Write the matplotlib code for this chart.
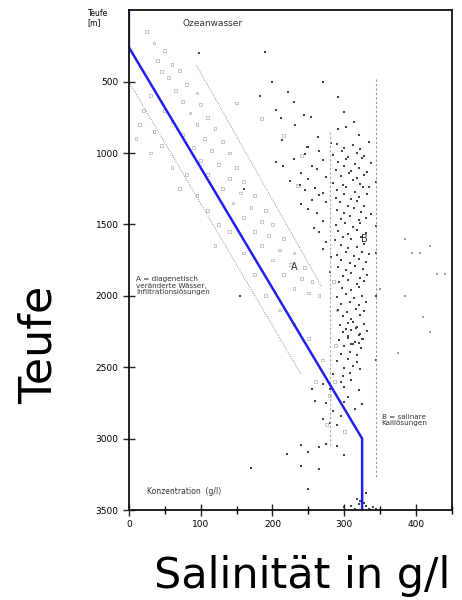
import matplotlib
matplotlib.use("Agg")
import matplotlib.pyplot as plt
from matplotlib.ticker import MultipleLocator

# ---- data (salinity g/l, depth m) ----
blue_sal = [0, 0, 325, 325]
blue_depth = [0, 260, 3000, 3500]

lower_dot_sal = [0, 240]
lower_dot_depth = [500, 2550]
upper_dot_sal = [94, 269]
upper_dot_depth = [385, 1940]
vert1_sal = [280, 280]
vert1_depth = [850, 3050]
vert2_sal = [345, 345]
vert2_depth = [480, 3280]

light_sal = [25, 35, 50, 40, 60, 45, 70, 55, 80, 65, 95, 30, 75, 100, 50, 85, 110, 60, 95, 120,
             75, 105, 130, 90, 115, 140, 100, 125, 150, 110, 140, 160, 130, 155, 175, 145, 170, 190,
             160, 185, 200, 175, 195, 215, 185, 210, 230, 200, 225, 245, 215, 240, 255, 230, 250, 265,
             20, 15, 35, 10, 45, 30, 60, 80, 70, 95, 110, 125, 140, 120, 160, 175, 190, 210, 230, 250,
             270, 260, 280, 275, 300, 150, 185, 215, 240, 235, 285, 290, 288, 287]
light_depth = [150, 230, 280, 350, 380, 430, 420, 470, 520, 560, 580, 600, 640, 660, 700, 720, 750, 780, 800, 830,
               870, 900, 920, 960, 980, 1000, 1050, 1080, 1100, 1150, 1180, 1200, 1250, 1280, 1300, 1350, 1380, 1400,
               1450, 1480, 1500, 1550, 1580, 1600, 1650, 1680, 1700, 1750, 1780, 1800, 1850, 1880, 1900, 1950, 1980, 2000,
               700, 800, 850, 900, 950, 1000, 1100, 1150, 1250, 1300, 1400, 1500, 1550, 1650, 1700, 1850, 2000, 2100, 2200, 2300,
               2450, 2600, 2700, 2900, 2950, 650, 760, 880, 1020, 1230, 1900, 2100, 2350, 2600]

dark_sal = [98, 190, 200, 182, 205, 271, 291, 300, 313, 303, 320, 291, 222, 230, 232, 244, 254, 264, 248, 213, 281, 212,
            290, 300, 312, 322, 335, 250, 265,
            285, 297, 305, 318, 328, 230, 245, 205,
            292, 303, 315, 325, 338, 255, 270,
            288, 300, 310, 320, 332, 215, 240, 262,
            295, 307, 318, 328, 275, 250,
            285, 298, 312, 322, 335, 225, 238, 260,
            290, 302, 315, 326, 270, 245,
            288, 300, 310, 320, 332, 255, 265,
            294, 305, 318, 328, 240, 275,
            290, 300, 313, 324, 338, 250, 262,
            296, 308, 320, 330, 270,
            288, 301, 312, 322, 258, 345,
            292, 305, 318, 330, 265,
            287, 298, 310, 323, 275,
            295, 306, 318, 328, 270,
            290, 302, 314, 325, 335, 282,
            296, 308, 320, 330,
            291, 303, 315, 326, 280,
            298, 310, 322, 332,
            293, 305, 318, 328,
            297, 309, 320,
            290, 302, 314, 325,
            296, 308, 320, 330,
            292, 304, 316, 327,
            298, 310, 322, 312,
            294, 305, 318, 328, 302, 316,
            298, 310, 322, 332, 306, 320, 325,
            293, 305, 315, 326, 310, 320,
            300, 312, 323,
            296, 308, 318,
            290, 305, 318,
            300, 312, 322,
            285, 298, 308,
            295, 310, 270,
            280, 300, 320, 255,
            290, 305,
            300, 325, 260, 275,
            285, 315,
            270, 295,
            290, 280,
            240, 265, 275, 290,
            220, 250, 300,
            240, 265, 170,
            250,
            300, 310, 315, 320, 322, 325, 330, 335, 340, 345, 318, 328,
            325, 330,
            160, 155, 345, 345, 345, 345]
dark_depth = [300, 290, 505, 600, 700, 505, 610, 713, 785, 820, 875, 835, 575, 645, 805, 735, 750, 890, 955, 910, 930, 755,
              935, 968, 942, 975, 921, 960, 987,
              1012, 985, 1030, 998, 1021, 1040, 1007, 1063,
              1062, 1041, 1078, 1035, 1070, 1088, 1052,
              1118, 1093, 1125, 1104, 1131, 1090, 1142, 1112,
              1163, 1140, 1175, 1152, 1170, 1185,
              1208, 1226, 1190, 1215, 1238, 1196, 1222, 1245,
              1262, 1241, 1270, 1235, 1281, 1258,
              1312, 1290, 1320, 1305, 1288, 1330, 1296,
              1345, 1368, 1338, 1372, 1360, 1342,
              1398, 1420, 1388, 1412, 1430, 1395, 1418,
              1461, 1440, 1470, 1452, 1478,
              1505, 1488, 1517, 1493, 1526, 1512,
              1545, 1570, 1538, 1562, 1552,
              1612, 1590, 1605, 1585, 1620,
              1642, 1668, 1655, 1637, 1671,
              1712, 1690, 1720, 1695, 1708, 1725,
              1752, 1770, 1740, 1762,
              1795, 1818, 1788, 1810, 1830,
              1860, 1842, 1873, 1855,
              1905, 1890, 1918, 1896,
              1945, 1962, 1938,
              2008, 1990, 2015, 2001,
              2058, 2041, 2066, 2045,
              2098, 2115, 2090, 2108,
              2143, 2160, 2137, 2182,
              2205, 2192, 2215, 2200, 2232, 2225,
              2252, 2240, 2268, 2245, 2285, 2278, 2302,
              2310, 2295, 2322, 2306, 2336, 2330,
              2352, 2340, 2368,
              2405, 2392, 2415,
              2455, 2442, 2462,
              2505, 2490, 2512,
              2548, 2560, 2540,
              2605, 2592, 2620,
              2650, 2640, 2662, 2655,
              2700, 2712,
              2745, 2760, 2735, 2752,
              2805, 2792,
              2860, 2845,
              2905, 2890,
              3045, 3060, 3040, 3055,
              3105, 3095, 3112,
              3195, 3210, 3205,
              3350,
              3480, 3470, 3490, 3460, 3440, 3480, 3470, 3490, 3480, 3495, 3420, 3450,
              3330, 3380,
              1250, 2000, 1200, 1700, 2000, 2450]

right_sal = [420, 440, 405, 410, 420, 385, 375, 350, 395, 385, 430]
right_depth = [1650, 1850, 1700, 2150, 2250, 2000, 2400, 1950, 1700, 1600, 1850]

fig = plt.figure(figsize=(4.62, 6.0), dpi=100)
ax = fig.add_axes([0.279, 0.15, 0.699, 0.833])

ax.plot(lower_dot_sal, lower_dot_depth, ls=(0, (1, 1.5)), color='#888888', lw=0.7)
ax.plot(upper_dot_sal, upper_dot_depth, ls=(0, (1, 1.5)), color='#888888', lw=0.7)
ax.plot(vert1_sal, vert1_depth, ls=(0, (2, 2)), color='#aaaaaa', lw=0.8)
ax.plot(vert2_sal, vert2_depth, ls=(0, (2, 2)), color='#999999', lw=0.8)

ax.scatter(light_sal, light_depth, s=4, marker='s', facecolors='none', edgecolors='#bbbbbb', linewidths=0.6)
ax.scatter(dark_sal, dark_depth, s=4, marker='s', color='#444444', linewidths=0)
ax.scatter(right_sal, right_depth, s=4, marker='s', color='#a0a0a0', linewidths=0)

ax.plot(blue_sal, blue_depth, color='#2020ee', lw=1.8)

ax.set_xlim(0, 450)
ax.set_ylim(3500, 0)
ax.xaxis.set_major_locator(MultipleLocator(100))
ax.xaxis.set_minor_locator(MultipleLocator(50))
ax.set_yticks([500, 1000, 1500, 2000, 2500, 3000, 3500])
ax.tick_params(axis='both', which='major', direction='inout', length=8, width=1, labelsize=6.5, color='#222222')
ax.tick_params(axis='x', which='minor', direction='inout', length=6, width=1)
for sp in ax.spines.values():
    sp.set_linewidth(1.3)
    sp.set_color('#111111')

ax.text(-0.128, 0.985, 'Teufe\n[m]', transform=ax.transAxes, fontsize=5.5, ha='left', va='center', linespacing=1.0)
ax.text(75, 90, 'Ozeanwasser', fontsize=6.5, ha='left', va='center', color='#333333')
ax.text(10, 1930, 'A = diagenetisch\nveränderte Wässer,\nInfiltrationslösungen', fontsize=5.2,
        ha='left', va='center', color='#333333', linespacing=1.1)
ax.text(352, 2870, 'B = salinare\nKalilösungen', fontsize=5.2, ha='left', va='center', color='#333333', linespacing=1.1)
ax.text(25, 3370, 'Konzentration  (g/l)', fontsize=5.5, ha='left', va='center', color='#333333')
ax.text(230, 1800, 'A', fontsize=7, ha='center', va='center', color='#333333')
ax.text(328, 1600, 'B', fontsize=7, ha='center', va='center', color='#333333')

fig.text(0.085, 0.425, 'Teufe', rotation=90, fontsize=32, ha='center', va='center')
fig.text(0.655, 0.04, 'Salinität in g/l', fontsize=31, ha='center', va='center')

fig.savefig('out.png', dpi=100)
